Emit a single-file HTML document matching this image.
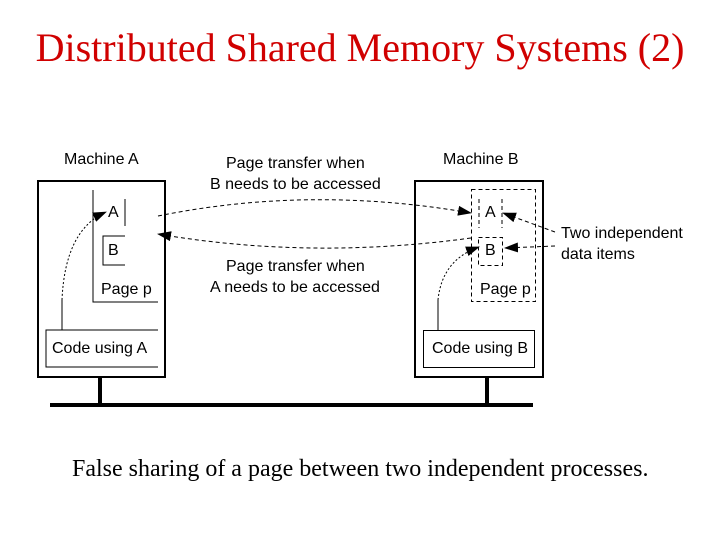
<!DOCTYPE html>
<html><head><style>
body{margin:0;width:720px;height:540px;background:#fff;overflow:hidden;position:relative}
.t{position:absolute;font-family:"Liberation Sans",sans-serif;font-size:16px;color:#000;white-space:nowrap}
</style></head><body>
<div style="position:absolute;left:0;width:720px;top:24px;text-align:center;font-family:'Liberation Serif',serif;font-size:40px;color:#d00000">Distributed Shared Memory Systems (2)</div>
<svg width="720" height="540" style="position:absolute;left:0;top:0">
<defs><marker id="ar" markerWidth="14" markerHeight="10" refX="13" refY="5" orient="auto" markerUnits="userSpaceOnUse"><path d="M0,0L14,5L0,10z" fill="#000"/></marker></defs>
<g stroke="#000" fill="none">
<rect x="38" y="181" width="127" height="196" stroke-width="2"/>
<rect x="415" y="181" width="128" height="196" stroke-width="2"/>
<line x1="100" y1="377" x2="100" y2="405" stroke-width="4"/>
<line x1="487" y1="377" x2="487" y2="405" stroke-width="4"/>
<line x1="50" y1="405" x2="533" y2="405" stroke-width="4"/>
<path d="M93 190V302H158" stroke-width="1"/>
<line x1="125" y1="199" x2="125" y2="226"/>
<path d="M125 236H103V265H125" />
<path d="M158 330H46V367H158"/>
<rect x="423.5" y="330.5" width="111" height="37"/>
<g stroke-dasharray="4,3">
<rect x="471.5" y="189.5" width="64" height="112"/>
<line x1="479" y1="199" x2="479" y2="228"/>
<line x1="502" y1="199" x2="502" y2="228"/>
<rect x="478.5" y="237.5" width="24" height="28"/>
<path d="M158 216 Q310 185 471 213" marker-end="url(#ar)"/>
<path d="M471 238 Q310 260 158 234" marker-end="url(#ar)"/>
<path d="M555 232 L503 213" marker-end="url(#ar)"/>
<path d="M555 246 L505 248" marker-end="url(#ar)"/>
</g>
<g stroke-dasharray="2,2">
<path d="M62 300 Q65 230 106 212" marker-end="url(#ar)"/>
<path d="M438 300 Q442 260 479 247" marker-end="url(#ar)"/>
</g>
<line x1="62" y1="300" x2="62" y2="330"/>
<line x1="438" y1="300" x2="438" y2="330"/>
</g>
</svg>
<div class="t" style="left:64px;top:151px">Machine A</div>
<div class="t" style="left:443px;top:151px">Machine B</div>
<div class="t" style="left:226px;top:155px">Page transfer when</div>
<div class="t" style="left:210px;top:176px">B needs to be accessed</div>
<div class="t" style="left:226px;top:258px">Page transfer when</div>
<div class="t" style="left:210px;top:279px">A needs to be accessed</div>
<div class="t" style="left:108px;top:204px">A</div>
<div class="t" style="left:108px;top:242px">B</div>
<div class="t" style="left:101px;top:281px">Page p</div>
<div class="t" style="left:52px;top:340px">Code using A</div>
<div class="t" style="left:485px;top:204px">A</div>
<div class="t" style="left:485px;top:242px">B</div>
<div class="t" style="left:480px;top:281px">Page p</div>
<div class="t" style="left:432px;top:340px">Code using B</div>
<div class="t" style="left:561px;top:225px">Two independent</div>
<div class="t" style="left:561px;top:246px">data items</div>
<div style="position:absolute;left:72px;top:456px;font-family:'Liberation Serif',serif;font-size:24px;white-space:nowrap">False sharing of a page between two independent processes.</div>
</body></html>
